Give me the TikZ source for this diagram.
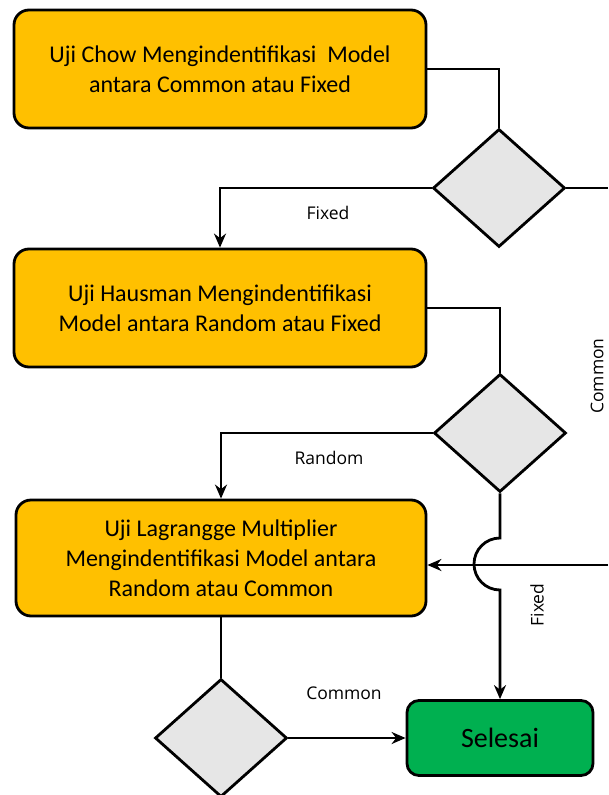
\documentclass[tikz,border=0pt]{standalone}
\usepackage{fontspec}
\setmainfont{Carlito}
\newfontfamily\lblfont{Open Sans}
\usepackage{xcolor}
\usetikzlibrary{arrows.meta,shapes.geometric}

\definecolor{boxgold}{RGB}{255,192,0}
\definecolor{decgray}{RGB}{230,230,230}
\definecolor{endgreen}{RGB}{0,176,80}

\tikzset{
  ujibox/.style={draw,line width=2.8pt,rounded corners=15pt,fill=boxgold,
    minimum width=412pt,minimum height=118pt,align=center,
    font=\fontsize{24}{30}\selectfont},
  decision/.style={diamond,draw,line width=2.8pt,fill=decgray,
    minimum width=132pt,minimum height=118pt,inner sep=0pt},
  flow/.style={line width=2.8pt},
  arr/.style={flow,-{Stealth[length=14pt,width=12pt]}},
  lbl/.style={font=\lblfont\fontsize{17.5}{20}\selectfont}
}

\begin{document}
\begin{tikzpicture}[x=1pt,y=-1pt]
\useasboundingbox (0,0) rectangle (608,795);

% Test boxes
\node[ujibox] (chow) at (220,69) {Uji Chow Mengindentifikasi~ Model\\antara Common atau Fixed};
\node[ujibox] (haus) at (220,308) {Uji Hausman Mengindentifikasi\\Model antara Random atau Fixed};
\node[ujibox,minimum width=410pt,minimum height=116pt] (lm) at (221,558)
  {Uji Lagrangge Multiplier\\Mengindentifikasi Model antara\\Random atau Common};

% End
\node[draw,line width=2.8pt,rounded corners=12pt,fill=endgreen,
  minimum width=186pt,minimum height=75pt,font=\fontsize{28}{32}\selectfont]
  (sel) at (500,738) {Selesai};

% Decisions
\node[decision] (d1) at (499,188) {};
\node[decision] (d2) at (500,433) {};
\node[decision] (d3) at (221,738) {};

% Lines leaving the page on the right
\coordinate (edge1) at (608,188);
\coordinate (edge2) at (608,565);

% Chow
\draw[flow] (chow.east) -| (d1.north);
\draw[arr] (d1.west) -| (haus.north);
\draw[flow] (d1.east) -- (edge1);
\node[lbl] at (328,213) {Fixed};
\node[lbl,rotate=90] at (597,376) {Common};

% Hausman
\draw[flow] (haus.east) -| (d2.north);
\draw[arr] (d2.west) -| (lm.north);
\node[lbl] at (329,458) {Random};
\draw[arr] (d2.south) -- (500,538) arc[start angle=90,end angle=270,radius=26pt] -- (sel.north);
\node[lbl,rotate=90] at (537,605) {Fixed};
\draw[arr] (edge2) -- (lm.east |- edge2);

% Lagrange Multiplier
\draw[flow] (lm.south) -- (d3.north);
\draw[arr] (d3.east) -- (sel.west);
\node[lbl] at (344,693) {Common};
\end{tikzpicture}
\end{document}
